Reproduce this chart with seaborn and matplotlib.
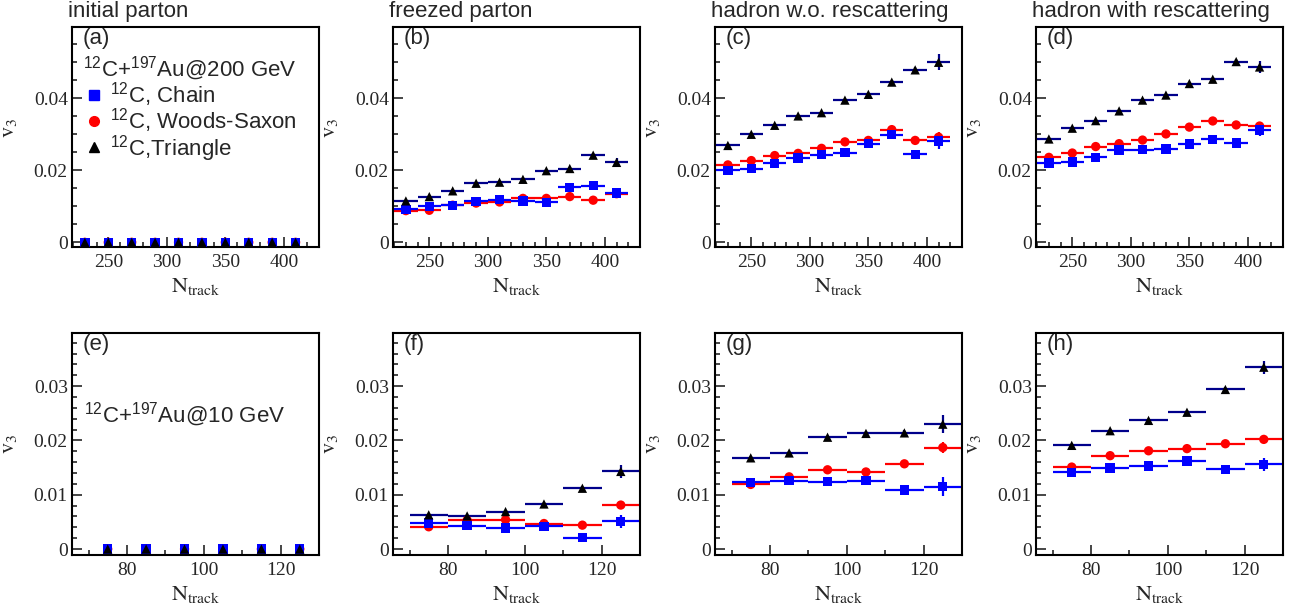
import numpy as np
import pandas as pd
import matplotlib
matplotlib.use("Agg")
import matplotlib.pyplot as plt
import seaborn as sns
from matplotlib.lines import Line2D
from matplotlib.ticker import MultipleLocator, FuncFormatter

# N_track bin centres
NTRACK_200 = [230, 250, 270, 290, 310, 330, 350, 370, 390, 410]
NTRACK_10 = [75, 85, 95, 105, 115, 125]

# (a) initial parton, 200 GeV
A_CHAIN = [0, 0, 0, 0, 0, 0, 0, 0, 0, 0]
A_WS = [0, 0, 0, 0, 0, 0, 0, 0, 0, 0]
A_TRI = [0, 0, 0, 0, 0, 0, 0, 0, 0, 0]
A_ERR = [0, 0, 0, 0, 0, 0, 0, 0, 0, 0]

# (b) freezed parton, 200 GeV
B_CHAIN = [0.0092, 0.0100, 0.0103, 0.0114, 0.0118, 0.0115, 0.0111, 0.0153, 0.0157, 0.0137]
B_WS = [0.0088, 0.0089, 0.0103, 0.0109, 0.0112, 0.0122, 0.0122, 0.0127, 0.0117, 0.0135]
B_TRI = [0.0115, 0.0127, 0.0143, 0.0164, 0.0167, 0.0175, 0.0199, 0.0205, 0.0242, 0.0222]
B_CHAIN_ERR = [0.0003, 0.0003, 0.0003, 0.0003, 0.0003, 0.0003, 0.0004, 0.0004, 0.0005, 0.0012]
B_WS_ERR = [0.0003, 0.0003, 0.0003, 0.0003, 0.0003, 0.0003, 0.0004, 0.0004, 0.0005, 0.0010]
B_TRI_ERR = [0.0003, 0.0003, 0.0003, 0.0003, 0.0003, 0.0003, 0.0004, 0.0004, 0.0005, 0.0013]

# (c) hadron w.o. rescattering, 200 GeV
C_CHAIN = [0.0200, 0.0205, 0.0219, 0.0234, 0.0243, 0.0249, 0.0274, 0.0299, 0.0244, 0.0281]
C_WS = [0.0215, 0.0227, 0.0241, 0.0247, 0.0261, 0.0279, 0.0283, 0.0313, 0.0283, 0.0292]
C_TRI = [0.0269, 0.0300, 0.0325, 0.0351, 0.0360, 0.0395, 0.0411, 0.0445, 0.0479, 0.0500]
C_CHAIN_ERR = [0.0003, 0.0003, 0.0003, 0.0003, 0.0003, 0.0004, 0.0004, 0.0005, 0.0007, 0.0022]
C_WS_ERR = [0.0003, 0.0003, 0.0003, 0.0003, 0.0003, 0.0004, 0.0004, 0.0005, 0.0006, 0.0015]
C_TRI_ERR = [0.0003, 0.0003, 0.0003, 0.0003, 0.0003, 0.0004, 0.0004, 0.0005, 0.0007, 0.0022]

# (d) hadron with rescattering, 200 GeV
D_CHAIN = [0.0220, 0.0223, 0.0236, 0.0256, 0.0257, 0.0259, 0.0273, 0.0286, 0.0276, 0.0312]
D_WS = [0.0236, 0.0248, 0.0266, 0.0274, 0.0284, 0.0301, 0.0320, 0.0337, 0.0326, 0.0323]
D_TRI = [0.0287, 0.0317, 0.0338, 0.0365, 0.0395, 0.0409, 0.0441, 0.0453, 0.0502, 0.0487]
D_CHAIN_ERR = [0.0003, 0.0003, 0.0003, 0.0003, 0.0003, 0.0004, 0.0004, 0.0005, 0.0006, 0.0017]
D_WS_ERR = [0.0003, 0.0003, 0.0003, 0.0003, 0.0003, 0.0004, 0.0004, 0.0005, 0.0006, 0.0012]
D_TRI_ERR = [0.0003, 0.0003, 0.0003, 0.0003, 0.0003, 0.0004, 0.0004, 0.0005, 0.0006, 0.0017]

# (e) initial parton, 10 GeV
E_CHAIN = [0, 0, 0, 0, 0, 0]
E_WS = [0, 0, 0, 0, 0, 0]
E_TRI = [0, 0, 0, 0, 0, 0]
E_ERR = [0, 0, 0, 0, 0, 0]

# (f) freezed parton, 10 GeV
F_CHAIN = [0.0048, 0.0043, 0.0039, 0.0042, 0.0021, 0.0051]
F_WS = [0.0041, 0.0053, 0.0054, 0.0047, 0.0044, 0.0081]
F_TRI = [0.0063, 0.0061, 0.0069, 0.0083, 0.0112, 0.0143]
F_CHAIN_ERR = [0.0002, 0.0002, 0.0002, 0.0003, 0.0004, 0.0012]
F_WS_ERR = [0.0002, 0.0002, 0.0002, 0.0003, 0.0004, 0.0006]
F_TRI_ERR = [0.0002, 0.0002, 0.0002, 0.0003, 0.0004, 0.0012]

# (g) hadron w.o. rescattering, 10 GeV
G_CHAIN = [0.0123, 0.0126, 0.0124, 0.0126, 0.0109, 0.0115]
G_WS = [0.0119, 0.0133, 0.0146, 0.0142, 0.0157, 0.0187]
G_TRI = [0.0168, 0.0177, 0.0206, 0.0213, 0.0214, 0.0230]
G_CHAIN_ERR = [0.0003, 0.0003, 0.0003, 0.0004, 0.0005, 0.0017]
G_WS_ERR = [0.0003, 0.0003, 0.0003, 0.0004, 0.0005, 0.0010]
G_TRI_ERR = [0.0003, 0.0003, 0.0003, 0.0004, 0.0005, 0.0017]

# (h) hadron with rescattering, 10 GeV
H_CHAIN = [0.0141, 0.0149, 0.0153, 0.0162, 0.0147, 0.0156]
H_WS = [0.0151, 0.0172, 0.0181, 0.0185, 0.0194, 0.0202]
H_TRI = [0.0191, 0.0218, 0.0237, 0.0252, 0.0294, 0.0335]
H_CHAIN_ERR = [0.0003, 0.0003, 0.0003, 0.0004, 0.0005, 0.0012]
H_WS_ERR = [0.0003, 0.0003, 0.0003, 0.0004, 0.0005, 0.0007]
H_TRI_ERR = [0.0003, 0.0003, 0.0003, 0.0004, 0.0005, 0.0012]

TITLES = ["initial parton", "freezed parton", "hadron w.o. rescattering", "hadron with rescattering"]
PANEL_LABELS = ["(a)", "(b)", "(c)", "(d)", "(e)", "(f)", "(g)", "(h)"]

MODELS = ["ws", "chain", "tri"]   # draw order: circles, squares, triangles on top
MARKERS = {"chain": "s", "ws": "o", "tri": "^"}
FACE = {"chain": "#0000ff", "ws": "#ff0000", "tri": "black"}
BAR = {"chain": "#0000ff", "ws": "#ff0000", "tri": "#00008b"}

sns.set_style("ticks")
plt.rcParams.update({
    "font.family": ["Liberation Sans", "DejaVu Sans"],
    "mathtext.fontset": "custom",
    "mathtext.rm": "Liberation Sans",
    "mathtext.it": "Liberation Sans:italic",
    "mathtext.bf": "Liberation Sans:bold",
    "axes.linewidth": 1.5,
    "axes.edgecolor": "black",
})

fig = plt.figure(figsize=(13.03, 6.13), dpi=100)
W, H = 1303.0, 613.0
lefts = [72, 393, 715, 1036]
rows = [(27, 247), (333, 555)]


def make_frame(x, chain, ws, tri, e_chain, e_ws, e_tri):
    parts = []
    for name, y, e in (("ws", ws, e_ws), ("chain", chain, e_chain), ("tri", tri, e_tri)):
        parts.append(pd.DataFrame({"ntrack": x, "v3": y, "err": e, "model": name}))
    return pd.concat(parts, ignore_index=True)


panels = [
    (NTRACK_200, A_CHAIN, A_WS, A_TRI, A_ERR, A_ERR, A_ERR),
    (NTRACK_200, B_CHAIN, B_WS, B_TRI, B_CHAIN_ERR, B_WS_ERR, B_TRI_ERR),
    (NTRACK_200, C_CHAIN, C_WS, C_TRI, C_CHAIN_ERR, C_WS_ERR, C_TRI_ERR),
    (NTRACK_200, D_CHAIN, D_WS, D_TRI, D_CHAIN_ERR, D_WS_ERR, D_TRI_ERR),
    (NTRACK_10, E_CHAIN, E_WS, E_TRI, E_ERR, E_ERR, E_ERR),
    (NTRACK_10, F_CHAIN, F_WS, F_TRI, F_CHAIN_ERR, F_WS_ERR, F_TRI_ERR),
    (NTRACK_10, G_CHAIN, G_WS, G_TRI, G_CHAIN_ERR, G_WS_ERR, G_TRI_ERR),
    (NTRACK_10, H_CHAIN, H_WS, H_TRI, H_CHAIN_ERR, H_WS_ERR, H_TRI_ERR),
]

zero_fmt = FuncFormatter(lambda v, p: "0" if abs(v) < 1e-9 else f"{v:g}")

for i, pdata in enumerate(panels):
    r, c = divmod(i, 4)
    top, bot = rows[r]
    ax = fig.add_axes([lefts[c] / W, 1 - bot / H, 247 / W, (bot - top) / H])
    df = make_frame(*pdata)
    half = 10 if r == 0 else 5

    # initial-parton panels show only the markers, no bin bars
    if df["v3"].abs().sum() > 0:
        for m in MODELS:
            d = df[df["model"] == m]
            ax.errorbar(d["ntrack"], d["v3"], xerr=half, yerr=d["err"], fmt="none",
                        ecolor=BAR[m], elinewidth=1.6, capsize=0, zorder=2)
    sns.scatterplot(data=df, x="ntrack", y="v3", hue="model", style="model",
                    palette=FACE, markers=MARKERS, s=45, linewidth=0,
                    legend=False, ax=ax, zorder=3)

    if r == 0:
        ax.set_xlim(219, 430)
        ax.set_ylim(-0.0013, 0.0598)
        ax.xaxis.set_major_locator(MultipleLocator(50))
        ax.xaxis.set_minor_locator(MultipleLocator(10))
        ax.yaxis.set_major_locator(MultipleLocator(0.02))
        ax.yaxis.set_minor_locator(MultipleLocator(0.005))
        ax.text(-0.015, 1.045, TITLES[c], transform=ax.transAxes, ha="left",
                va="baseline", fontsize=16)
    else:
        ax.set_xlim(65.7, 130)
        ax.set_ylim(-0.0011, 0.0398)
        ax.xaxis.set_major_locator(MultipleLocator(20))
        ax.xaxis.set_minor_locator(MultipleLocator(10))
        ax.yaxis.set_major_locator(MultipleLocator(0.01))
        ax.yaxis.set_minor_locator(MultipleLocator(0.002))
    ax.yaxis.set_major_formatter(zero_fmt)

    ax.tick_params(which="both", direction="in", top=False, right=False,
                   labelfontfamily="Liberation Serif", labelsize=14, width=1.2)
    ax.tick_params(which="major", length=7, pad=5)
    ax.tick_params(which="minor", length=3.5)
    ax.tick_params(axis="y", which="major", pad=3)

    ax.set_xlabel(r"$\mathrm{N_{track}}$", fontsize=16, math_fontfamily="stix")
    ax.set_ylabel(r"$\mathrm{v_{3}}$", fontsize=16, math_fontfamily="stix")
    ax.xaxis.set_label_coords(0.5, -0.13)
    ax.yaxis.set_label_coords(-0.215, 0.54 if r == 0 else 0.5)
    for s in ax.spines.values():
        s.set_visible(True)
        s.set_linewidth(1.5)

    ax.text(0.045, 0.995, PANEL_LABELS[i], transform=ax.transAxes, ha="left",
            va="top", fontsize=16)

    if i == 0:
        handles = [Line2D([], [], marker=MARKERS[m], color=FACE[m], linestyle="",
                          markersize=7) for m in ("chain", "ws", "tri")]
        labels = [r"$^{12}$C, Chain", r"$^{12}$C, Woods-Saxon", r"$^{12}$C,Triangle"]
        ax.legend(handles, labels, title=r"$^{12}$C+$^{197}$Au@200 GeV",
                  title_fontsize=16, fontsize=16, loc="upper left",
                  bbox_to_anchor=(0.045, 0.875), frameon=False, borderpad=0,
                  borderaxespad=0, handlelength=1.0, handletextpad=0.2,
                  labelspacing=-0.12, alignment="left")
    if i == 4:
        ax.text(0.05, 0.6, r"$^{12}$C+$^{197}$Au@10 GeV", transform=ax.transAxes,
                ha="left", va="baseline", fontsize=16)

fig.savefig("out.png", dpi=100)
